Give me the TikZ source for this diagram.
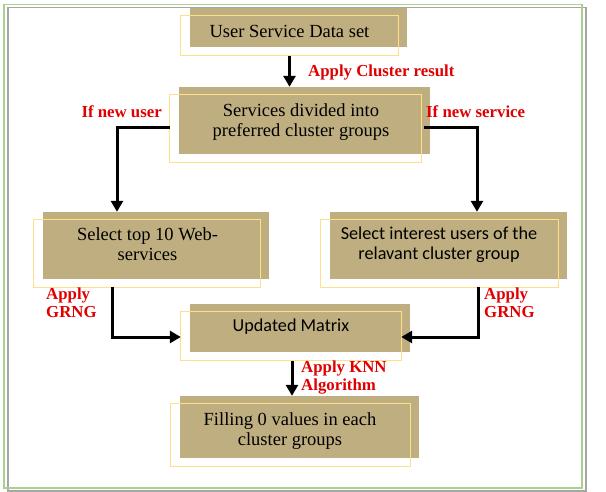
\documentclass[tikz,border=0pt]{standalone}
\usepackage{fontspec}
\setmainfont{Liberation Serif}
\newfontfamily\calibri{Carlito}
\usetikzlibrary{arrows.meta}
\definecolor{tanfill}{HTML}{BFAE80}
\definecolor{paleyellow}{HTML}{FFE08A}
\definecolor{framegreen}{HTML}{A9D08E}
\definecolor{framegray}{HTML}{A6A6A6}
\definecolor{labelred}{HTML}{E00000}
\tikzset{
  tanbox/.style={fill=tanfill, draw=none, inner sep=0},
  boxtext/.style={align=center, text=black, inner sep=0, font=\fontsize{18.5}{20}\selectfont},
  flow/.style={line width=3pt, -{Triangle[width=12pt,length=11pt]}},
  cond/.style={text=labelred, inner sep=0, align=left, font=\bfseries\fontsize{16.8}{18}\selectfont},
}
\begin{document}
\begin{tikzpicture}[x=1pt,y=1pt,yscale=-1,xscale=1]
\useasboundingbox (0,0) rectangle (606,492);
\draw [framegray, line width=1.5] (8,7.5) rectangle (586,491);
\draw [framegreen, line width=1.3] (4,4.5) rectangle (582,488);
% boxes
\node [tanbox, minimum width=217, minimum height=39] (data) at (298.5,27.5) {};
\node [tanbox, minimum width=251, minimum height=67] (groups) at (304.5,120.5) {};
\node [tanbox, minimum width=226, minimum height=67] (topweb) at (156,245.5) {};
\node [tanbox, minimum width=237, minimum height=67] (users) at (448.5,245.5) {};
\node [tanbox, minimum width=220, minimum height=48] (matrix) at (300,328) {};
\node [tanbox, minimum width=239, minimum height=62] (filling) at (299.5,427) {};
\foreach \n in {data,groups,topweb,users,matrix,filling}
  \draw [paleyellow, line width=1] ([shift={(-9,8)}]\n.north west) rectangle ([shift={(-9,8)}]\n.south east);
% box texts
\node [boxtext] (dataT) at ([shift={(-9,3.5)}]data.center) {User Service Data set};
\node [boxtext] (groupsT) at ([shift={(-3.5,2)}]groups.center) {Services divided into\\preferred cluster groups};
\node [boxtext] (topwebT) at ([shift={(-8.5,-1)}]topweb.center) {Select top 10 Web-\\services};
\node [boxtext, font=\calibri\fontsize{18.2}{19.5}\selectfont] (usersT) at ([shift={(-9.5,-1)}]users.center) {Select interest users of the\\relavant cluster group};
\node [boxtext, font=\calibri\fontsize{18.2}{20}\selectfont] (matrixT) at ([shift={(-9,-1)}]matrix.center) {Updated Matrix};
\node [boxtext] (fillingT) at ([shift={(-9.5,4)}]filling.center) {Filling 0 values in each\\cluster groups};
% connectors
\coordinate (dataOut) at ([shift={(-9,9)}]data.south);
\draw [flow] (dataOut) -- (dataOut |- groups.north);
\coordinate (userOut) at ([shift={(-9,7.5)}]groups.west);
\draw [flow] (userOut) -| ([xshift=-39]topweb.north);
\coordinate (serviceOut) at ([shift={(-6,7.5)}]groups.east);
\draw [flow] (serviceOut) -| ([xshift=28.5]users.north);
\coordinate (webOut) at ([shift={(-44,8)}]topweb.south);
\draw [flow] (webOut) |- ([shift={(-9,9)}]matrix.west);
\coordinate (usersOut) at ([shift={(29.5,8)}]users.south);
\draw [flow] (usersOut) |- ([shift={(-9,9)}]matrix.east);
\coordinate (matrixOut) at ([shift={(-8,9)}]matrix.south);
\draw [flow] (matrixOut) -- (matrixOut |- filling.north);
% labels
\node [cond, anchor=base west] (cluster) at (308,77) {Apply Cluster result};
\node [cond, anchor=base east] (newuser) at (162,118) {If new user};
\node [cond, anchor=base west] (newservice) at (426,118) {If new service};
\node [cond, anchor=base west] (grngL) at (46,318) {Apply\\GRNG};
\node [cond, anchor=base west] (grngR) at (484,317) {Apply\\GRNG};
\node [cond, anchor=base west] (knn) at (301,390) {Apply KNN\\Algorithm};
\end{tikzpicture}
\end{document}
